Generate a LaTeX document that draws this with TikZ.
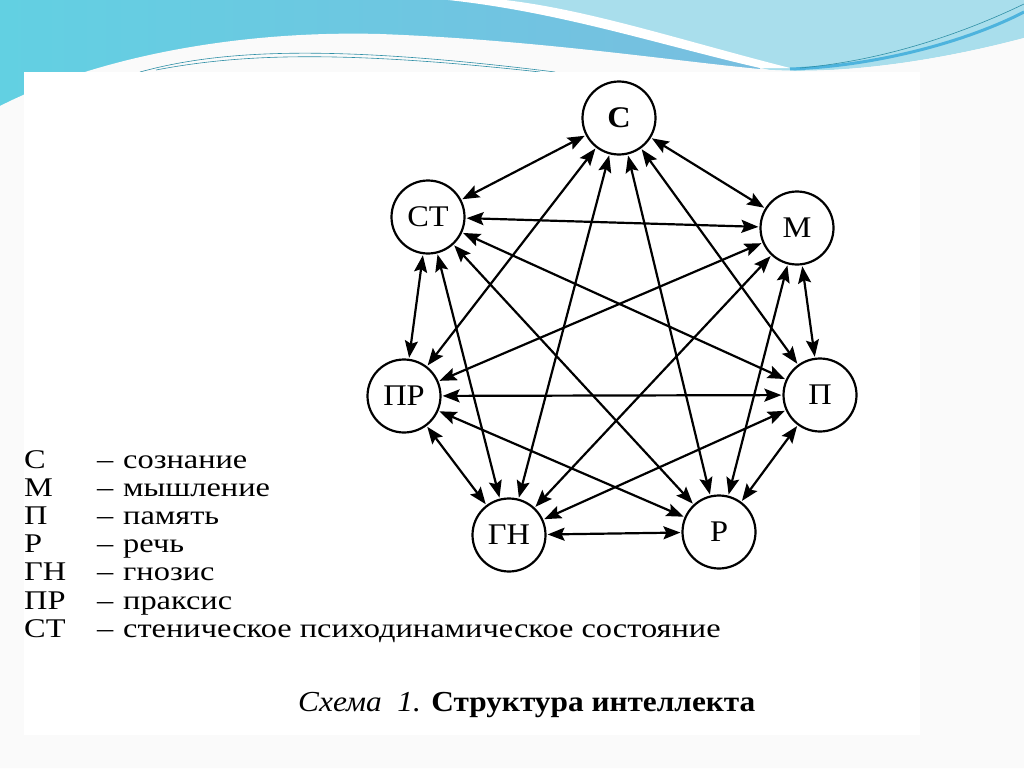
\documentclass[tikz,border=0pt]{standalone}
\usepackage{fontspec}
\setmainfont{Liberation Serif}
\newfontfamily\legendfont[FakeStretch=1.2]{Liberation Serif}
\newfontfamily\labelfont[FakeStretch=1.08]{Liberation Serif}
\usetikzlibrary{arrows.meta}

\definecolor{skyleft}{HTML}{78BEE0}
\definecolor{skyteal}{HTML}{62D0E2}
\definecolor{skyright}{HTML}{A9DEEC}
\definecolor{skyline}{HTML}{2F8FA6}
\definecolor{skydeep}{HTML}{4DB3DD}

\tikzset{
  vertex/.style={draw,circle,line width=2.2pt,minimum size=73pt,inner sep=0pt,
    font=\labelfont\fontsize{30}{32}\selectfont},
  tip/.style={Stealth[length=17pt,width=13pt,inset=3pt]},
  link/.style={{Stealth[length=17pt,width=13pt,inset=3pt]}-{Stealth[length=17pt,width=13pt,inset=3pt]},
    line width=2.2pt,shorten <=1pt,shorten >=1pt},
  legend/.style={anchor=base west,inner sep=0pt,font=\legendfont\fontsize{27}{30}\selectfont}
}

\begin{document}
\begin{tikzpicture}[x=1pt,y=-1pt]
\useasboundingbox (0,0) rectangle (1024,768);
\fill[gray!4] (0,0) rectangle (1024,768);

% header waves
\shade[left color=skyteal,right color=skyleft] (0,0) rectangle (760,110);
\fill[skyright] (480,0) .. controls (600,20) and (680,50) .. (770,70)
  .. controls (860,75) and (960,55) .. (1024,38) -- (1024,0) -- cycle;
\fill[white] (448,0) .. controls (560,12) and (660,45) .. (760,68)
  -- (790,68) .. controls (680,40) and (590,10) .. (505,0) -- cycle;
\fill[gray!4] (0,106) .. controls (90,60) and (230,30) .. (380,34)
  .. controls (540,40) and (680,62) .. (770,70)
  .. controls (860,75) and (960,55) .. (1024,38) -- (1024,768) -- (0,768) -- cycle;
\draw[skydeep,line width=3pt] (790,69) .. controls (880,66) and (970,40) .. (1024,12);
\draw[skyline,line width=.6pt] (800,68) .. controls (890,60) and (970,30) .. (1024,4);
\draw[skyline,line width=.6pt] (140,72) .. controls (220,50) and (330,44) .. (555,72);
\draw[skyline,line width=.6pt] (156,70) .. controls (240,54) and (340,50) .. (540,72);

% page
\fill[white] (24,72) rectangle (920,735);

% graph
\node[vertex,font=\labelfont\fontsize{30}{32}\selectfont\bfseries] (S) at (619,118) {С};
\node[vertex] (ST) at (428,217) {СТ};
\node[vertex] (M) at (797,228) {М};
\node[vertex] (PR) at (404,396) {ПР};
\node[vertex] (P) at (820,395) {П};
\node[vertex] (GN) at (509,535) {ГН};
\node[vertex] (R) at (719,532) {Р};

\foreach \a/\b in {S/M,S/P,S/R,S/GN,S/PR,S/ST,M/P,M/R,M/GN,M/PR,M/ST,
  P/R,P/GN,P/PR,P/ST,R/GN,R/PR,R/ST,GN/PR,GN/ST,PR/ST}
  \draw[link] (\a) -- (\b);

% legend
\foreach \abbr/\word [count=\i] in {С/сознание,М/мышление,П/память,Р/речь,
  ГН/гнозис,ПР/праксис,СТ/стеническое психодинамическое состояние}{
  \node[legend] (abbr\i) at (24,{468+28.2*(\i-1)}) {\abbr};
  \node[legend] (dash\i) at (97,{468+28.2*(\i-1)}) {–};
  \node[legend] (word\i) at (123,{468+28.2*(\i-1)}) {\word};
}

\node[anchor=base west,inner sep=0pt,font=\labelfont\fontsize{29}{32}\selectfont] (caption)
  at (298,711) {\textit{Схема\ \ 1.} \textbf{Структура интеллекта}};
\end{tikzpicture}
\end{document}
